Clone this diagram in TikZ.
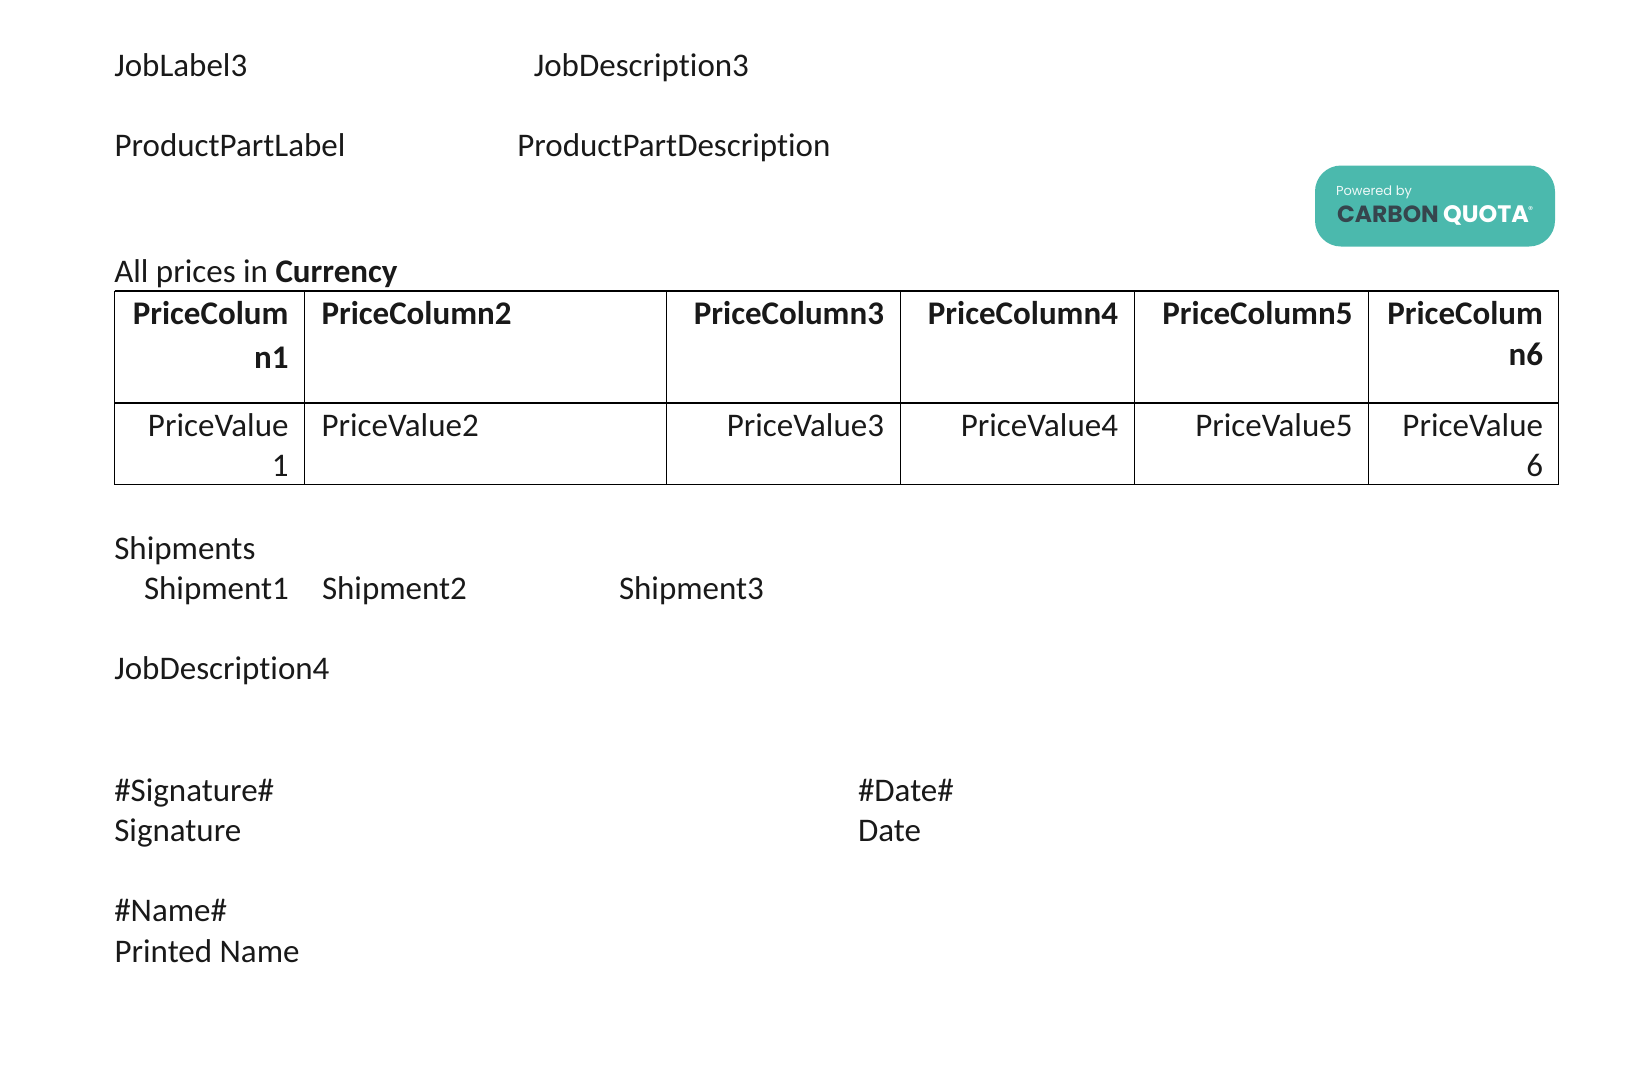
\documentclass[tikz,border=0pt]{standalone}
\usepackage{fontspec}
\setmainfont[Ligatures=NoCommon]{Carlito}
\newfontfamily\logofont{Poppins}
\definecolor{logoteal}{HTML}{4BB9AD}
\definecolor{logodark}{HTML}{36454D}
\tikzset{
  txt/.style={inner sep=0pt,outer sep=0pt,anchor=base west,font=\fontsize{33}{40}\selectfont,text=black!90},
  rtxt/.style={txt,anchor=base east},
  tline/.style={draw=black,line width=1.5pt},
  tlinethin/.style={draw=black,line width=1pt},
}
\begin{document}
\begin{tikzpicture}[x=1pt,y=-1pt]
\useasboundingbox (0,0) rectangle (1640,1074);
\node[txt] (job3) at (114.3,76.2) {JobLabel3};
\node[txt] (jobd3) at (533.8,76.2) {JobDescription3};
\node[txt] (ppl) at (114.6,156.2) {ProductPartLabel};
\node[txt] (ppd) at (517.4,156.2) {ProductPartDescription};
\node[txt] (allp) at (114.3,282) {All prices in \textbf{Currency}};
% logo
\path[fill=logoteal,rounded corners=26pt] (1315,165.5) rectangle (1555,246.5);
\node[txt,font=\logofont\fontsize{13}{16}\selectfont,text=white!90!logoteal] (pow) at (1336,195) {Powered by};
\node[txt,font=\logofont\bfseries\fontsize{23.4}{28}\selectfont,text=logodark] (carb) at (1337,222.7) {CARBON};
\node[txt,font=\logofont\bfseries\fontsize{23.8}{28}\selectfont,text=white] (quo) at (1443,222.7) {QUOTA};
\node[txt,font=\logofont\fontsize{10}{12}\selectfont,text=white] (reg) at (1528,213) {®};
% table
\draw[tline] (114.5,291) -- (1558.5,291);
\draw[tline] (114.5,403) -- (1558.5,403);
\draw[tlinethin] (114.5,484.5) -- (1558.5,484.5);
\foreach \x in {114.5,304.5,666.5,900.5,1134.5,1368.5,1558.5}{
  \draw[tlinethin] (\x,290.5) -- (\x,485);
}
\node[rtxt] (h1a) at (288.5,324) {\textbf{PriceColum}};
\node[rtxt] (h1b) at (288.5,368) {\textbf{n1}};
\node[txt] (h2) at (321.5,324) {\textbf{PriceColumn2}};
\node[rtxt] (h3) at (884,324) {\textbf{PriceColumn3}};
\node[rtxt] (h4) at (1118,324) {\textbf{PriceColumn4}};
\node[rtxt] (h5) at (1352.5,324) {\textbf{PriceColumn5}};
\node[rtxt] (h6a) at (1543,324) {\textbf{PriceColum}};
\node[rtxt] (h6b) at (1543,365) {\textbf{n6}};
\node[rtxt] (v1a) at (288.5,436) {PriceValue};
\node[rtxt] (v1b) at (288.5,476.5) {1};
\node[txt] (v2) at (321.5,436) {PriceValue2};
\node[rtxt] (v3) at (884,436) {PriceValue3};
\node[rtxt] (v4) at (1118,436) {PriceValue4};
\node[rtxt] (v5) at (1352.5,436) {PriceValue5};
\node[rtxt] (v6a) at (1543,436) {PriceValue};
\node[rtxt] (v6b) at (1543,476.5) {6};
% lower
\node[txt] (ship) at (114.3,559.2) {Shipments};
\node[txt] (s1) at (144,599.2) {Shipment1};
\node[txt] (s2) at (322,599.2) {Shipment2};
\node[txt] (s3) at (619,599.2) {Shipment3};
\node[txt] (jobd4) at (114.3,679.2) {JobDescription4};
\node[txt] (sig) at (114.3,801.2) {\#Signature\#};
\node[txt] (date) at (858,801.2) {\#Date\#};
\node[txt] (sigl) at (114.3,841.2) {Signature};
\node[txt] (datel) at (858,841.2) {Date};
\node[txt] (name) at (114.3,921.2) {\#Name\#};
\node[txt] (pname) at (114.6,962.2) {Printed Name};
\end{tikzpicture}
\end{document}
